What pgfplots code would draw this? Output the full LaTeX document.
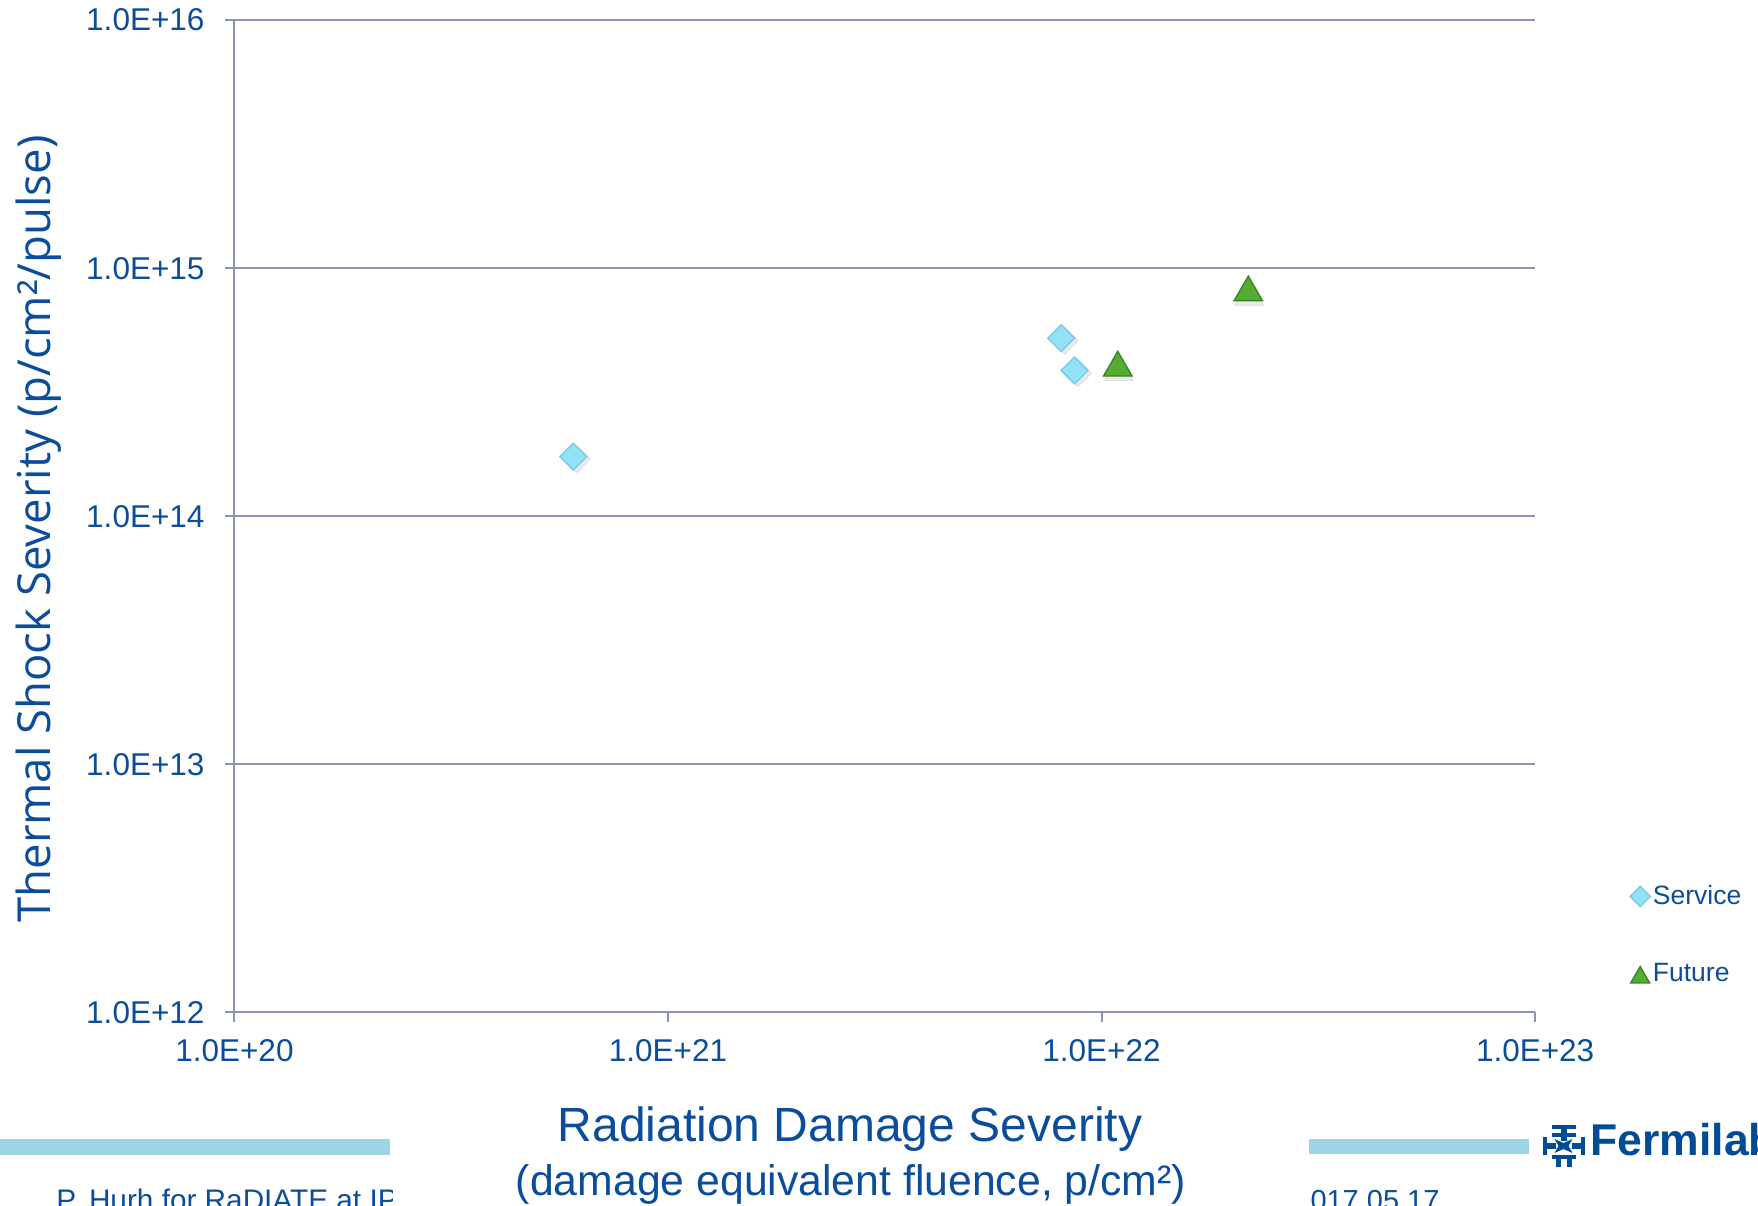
\documentclass[border=0pt]{standalone}
\usepackage{pgfplots}
\pgfplotsset{compat=1.18}
\usepackage{fontspec}
\setmainfont{Liberation Sans}
\newfontfamily\osans{Open Sans}
\definecolor{txtblue}{RGB}{12,77,155}
\definecolor{gridc}{RGB}{137,147,185}
\definecolor{svcfill}{RGB}{146,226,246}
\definecolor{svcdraw}{RGB}{118,200,228}
\definecolor{futfill}{RGB}{84,172,52}
\definecolor{futdraw}{RGB}{56,130,28}
\definecolor{barblue}{RGB}{155,213,230}
\definecolor{logoblue}{RGB}{0,76,151}

\pgfplotstableread{
x y
6.05e20 1.74e14
8.07e21 5.22e14
8.66e21 3.87e14
}\service
\pgfplotstableread{
x y
1.09e22 4.10e14
2.18e22 8.24e14
}\future

\begin{document}
\begin{tikzpicture}
\path[use as bounding box] (0,0) rectangle (703.2pt,482pt);
\begin{axis}[
  at={(93.72pt,77.04pt)}, anchor=south west,
  scale only axis, width=520.28pt, height=396.88pt,
  xmode=log, ymode=log,
  xmin=1e20, xmax=1e23, ymin=1e12, ymax=1e16,
  axis lines*=left,
  axis line style={gridc, line width=0.8pt},
  xtick={1e20,1e21,1e22,1e23},
  xticklabels={1.0E+20,1.0E+21,1.0E+22,1.0E+23},
  ytick={1e12,1e13,1e14,1e15,1e16},
  yticklabels={1.0E+12,1.0E+13,1.0E+14,1.0E+15,1.0E+16},
  xminorticks=false, yminorticks=false,
  tick align=outside,
  major tick length=3.8pt,
  tick style={gridc, line width=0.8pt},
  ymajorgrids, major grid style={gridc, line width=0.8pt},
  ticklabel style={font=\fontsize{12.6}{15}\selectfont, text=txtblue},
  yticklabel style={anchor=east, inner sep=0pt, xshift=-8pt},
  xticklabel style={anchor=north, inner sep=0pt, yshift=-7pt},
  clip=false,
  legend image code/.code={\draw[mark repeat=2, mark phase=2, #1] plot coordinates {(0pt,0pt)(5pt,0pt)(10pt,0pt)};},
  legend style={at={(1.0725,0.078)}, anchor=west, draw=none, fill=none,
    font=\fontsize{10.6}{12}\selectfont, text=txtblue, row sep=20pt,
    inner sep=0pt, nodes={inner sep=1pt}},
  legend cell align=left,
]
% soft shadows
\addplot[only marks, forget plot, mark=square*, mark size=3.8pt,
  mark options={rotate=45, fill=black, draw=none, opacity=0.08, xshift=0.3pt, yshift=-1.8pt}]
  table[x=x,y=y]{\service};
\addplot[only marks, forget plot, mark=triangle*, mark size=6.6pt,
  mark options={fill=black, draw=none, opacity=0.08, xshift=0.3pt, yshift=-3.2pt}]
  table[x=x,y=y]{\future};
% data
\addplot[only marks, mark=square*, mark size=3.8pt,
  mark options={rotate=45, fill=svcfill, draw=svcdraw, line width=0.5pt},
  legend image post style={mark size=2.9pt}]
  table[x=x,y=y]{\service};
\addlegendentry{Service}
\addplot[only marks, mark=triangle*, mark size=6.6pt,
  mark options={fill=futfill, draw=futdraw, line width=0.5pt, yshift=-1.4pt},
  legend image post style={mark size=4.4pt}]
  table[x=x,y=y]{\future};
\addlegendentry{Future}
\end{axis}

\begin{scope}[x=0.4pt, y=-0.4pt, shift={(0pt,482pt)}]
  % slide bars
  \fill[barblue] (0,1139) rectangle (390,1155);
  \fill[barblue] (1309,1139) rectangle (1529,1154);
  % axis titles
  \node[rotate=90, anchor=base, inner sep=0pt, text=txtblue,
        font=\osans\fontsize{18.2}{22}\selectfont] at (51,529)
        {Thermal Shock Severity (p/cm²/pulse)};
  \node[anchor=base, inner sep=0pt, text=txtblue,
        font=\fontsize{19.2}{23}\selectfont] at (850,1142)
        {Radiation Damage Severity};
  \node[anchor=base, inner sep=0pt, text=txtblue,
        font=\fontsize{17.1}{20}\selectfont] at (851,1196)
        {(damage equivalent fluence, p/cm²)};
  % footer texts (cut by slide layout)
  \begin{scope}
    \clip (0,1160) rectangle (392,1230);
    \node[anchor=base west, inner sep=0pt, text=txtblue,
          font=\fontsize{11.9}{14}\selectfont] at (56,1211)
          {P. Hurh for RaDIATE at IPAC};
  \end{scope}
  \node[anchor=base west, inner sep=0pt, text=txtblue,
        font=\fontsize{11.6}{14}\selectfont] at (1310,1211) {017.05.17};
  % Fermilab logo
  \node[anchor=base west, inner sep=0pt, text=logoblue,
        font=\bfseries\fontsize{17.8}{20}\selectfont] at (1590,1156) {Fermilab};
  \begin{scope}[shift={(1563.5,1146)}]
    \fill[logoblue] (-12,-21) rectangle (12,-17);
    \fill[logoblue] (-12,-13) rectangle (12,-9);
    \fill[logoblue] (-3,-21) rectangle (3,-5);
    \fill[logoblue] (-21,-3) rectangle (-8,3);
    \fill[logoblue] (8,-3) rectangle (21,3);
    \fill[logoblue] (-21,-9) rectangle (-17,9);
    \fill[logoblue] (17,-9) rectangle (21,9);
    \fill[logoblue] (-9,-7) -- (0,-3) -- (9,-7) -- (5,0) -- (9,7) -- (0,3) -- (-9,7) -- (-5,0) -- cycle;
    \fill[logoblue] (-12,9) rectangle (12,13);
    \fill[logoblue] (-8,13) rectangle (-3,21);
    \fill[logoblue] (3,13) rectangle (8,21);
  \end{scope}
\end{scope}
\end{tikzpicture}
\end{document}
